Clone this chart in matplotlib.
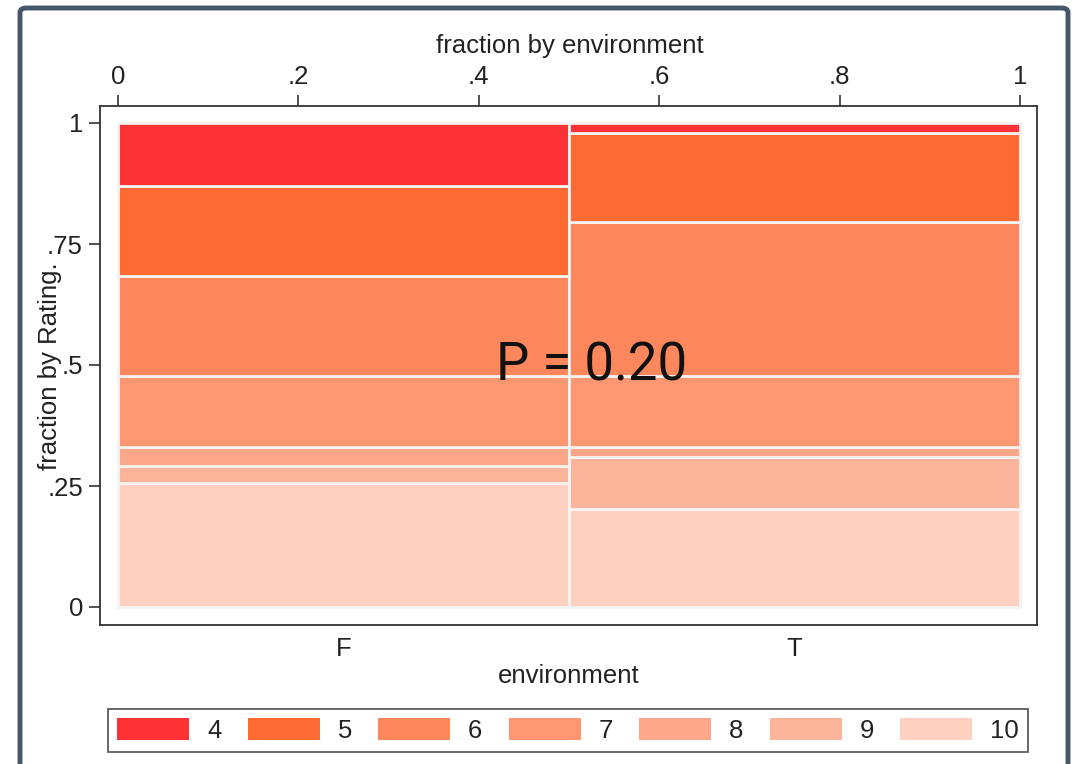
import matplotlib
matplotlib.use("Agg")
import matplotlib.pyplot as plt
from matplotlib.patches import Patch, FancyBboxPatch

# ---- data ----
environments = ["F", "T"]
env_fraction = [0.5, 0.5]
ratings = ["4", "5", "6", "7", "8", "9", "10"]
frac_F = [0.130, 0.187, 0.205, 0.148, 0.038, 0.035, 0.257]
frac_T = [0.021, 0.183, 0.318, 0.147, 0.021, 0.108, 0.202]
rating_colors = ["#fc3234", "#fd6a32", "#fd875c", "#fd9772", "#fca68a", "#fcb49a", "#fdd0c0"]
p_text = "P = 0.20"

plt.rcParams['font.family'] = ['Liberation Sans', 'DejaVu Sans']
FS = 18.5
TXT = "#222222"

fig = plt.figure(figsize=(10.76, 7.64), dpi=100)
fig.patch.set_facecolor("white")
W, H = 1076, 764

# outer dark frame
frame = FancyBboxPatch((20 / W, -0.05), (1068 - 20) / W, (764 - 8) / H + 0.05,
                       boxstyle="round,pad=0,rounding_size=0.006",
                       transform=fig.transFigure, facecolor="none",
                       edgecolor="#45556b", linewidth=3.5, zorder=10)
fig.patches.append(frame)

# axes (plot region)
x0, x1 = 118, 1020   # data 0..1 pixels
y0, y1 = 607, 123
fl, fr, ft, fb = 100, 1037, 106, 625
ax = fig.add_axes([fl / W, 1 - fb / H, (fr - fl) / W, (fb - ft) / H])
ax.set_xlim((fl - x0) / (x1 - x0), (fr - x0) / (x1 - x0))
ax.set_ylim((y0 - fb) / (y0 - y1), (y0 - ft) / (y0 - y1))

col_fracs = [frac_F, frac_T]
left = 0.0
for env, w, fr_list in zip(environments, env_fraction, col_fracs):
    bottom = 0.0
    # stack from rating 10 at the bottom to rating 4 at top
    for idx in range(len(ratings) - 1, -1, -1):
        h = fr_list[idx]
        ax.bar(left, h, width=w, bottom=bottom, align="edge",
               color=rating_colors[idx], edgecolor="#f5f3f2", linewidth=2.0)
        bottom += h
    left += w

for sp in ax.spines.values():
    sp.set_color("#333333")
    sp.set_linewidth(1.3)

# y axis
ax.set_yticks([0, 0.25, 0.5, 0.75, 1])
ax.set_yticklabels(["0", ".25", ".5", ".75", "1"])
ax.tick_params(axis="y", direction="out", length=8, width=1.2, labelsize=FS,
               colors="#333333", labelcolor=TXT, pad=4.3)
fig.text(50 / W, 1 - 366 / H, "fraction by Rating.", rotation=90, fontsize=FS,
         color=TXT, ha="center", va="center")

# top x axis
ax.xaxis.tick_top()
ax.set_xticks([0, 0.2, 0.4, 0.6, 0.8, 1])
ax.set_xticklabels(["0", ".2", ".4", ".6", ".8", "1"])
ax.tick_params(axis="x", direction="out", length=8, width=1.2, labelsize=FS,
               colors="#333333", labelcolor=TXT, pad=4.6)
fig.text(570 / W, 1 - 46 / H, "fraction by environment", fontsize=FS,
         color=TXT, ha="center", va="center")

# bottom category axis
centers = []
l = 0.0
for w in env_fraction:
    centers.append(l + w / 2)
    l += w
sec = ax.secondary_xaxis("bottom")
sec.set_xticks(centers)
sec.set_xticklabels(environments)
sec.tick_params(length=0, labelsize=FS, labelcolor=TXT, pad=8.5)
sec.spines["bottom"].set_visible(False)
fig.text(569 / W, 1 - 676 / H, "environment", fontsize=FS,
         color=TXT, ha="center", va="center")

# annotation
ax.text(0.5255, 0.498, p_text, fontsize=38, family=["Roboto", "DejaVu Sans"],
        ha="center", va="center", color="#111111")

# legend
handles = [Patch(facecolor=c, edgecolor="none") for c in rating_colors]
leg = fig.legend(handles, ratings, loc="lower left",
                 bbox_to_anchor=(108 / W, 1 - 752 / H, (1028 - 108) / W, (752 - 700) / H),
                 mode="expand", ncol=7, frameon=True, fancybox=False,
                 edgecolor="#333333", fontsize=FS, handlelength=2.8,
                 handleheight=0.9, handletextpad=0.7, borderaxespad=0,
                 borderpad=0.35, columnspacing=1.0)
leg.get_frame().set_linewidth(1.3)
for t in leg.get_texts():
    t.set_color(TXT)

fig.savefig("out.png", dpi=100, facecolor="white")
